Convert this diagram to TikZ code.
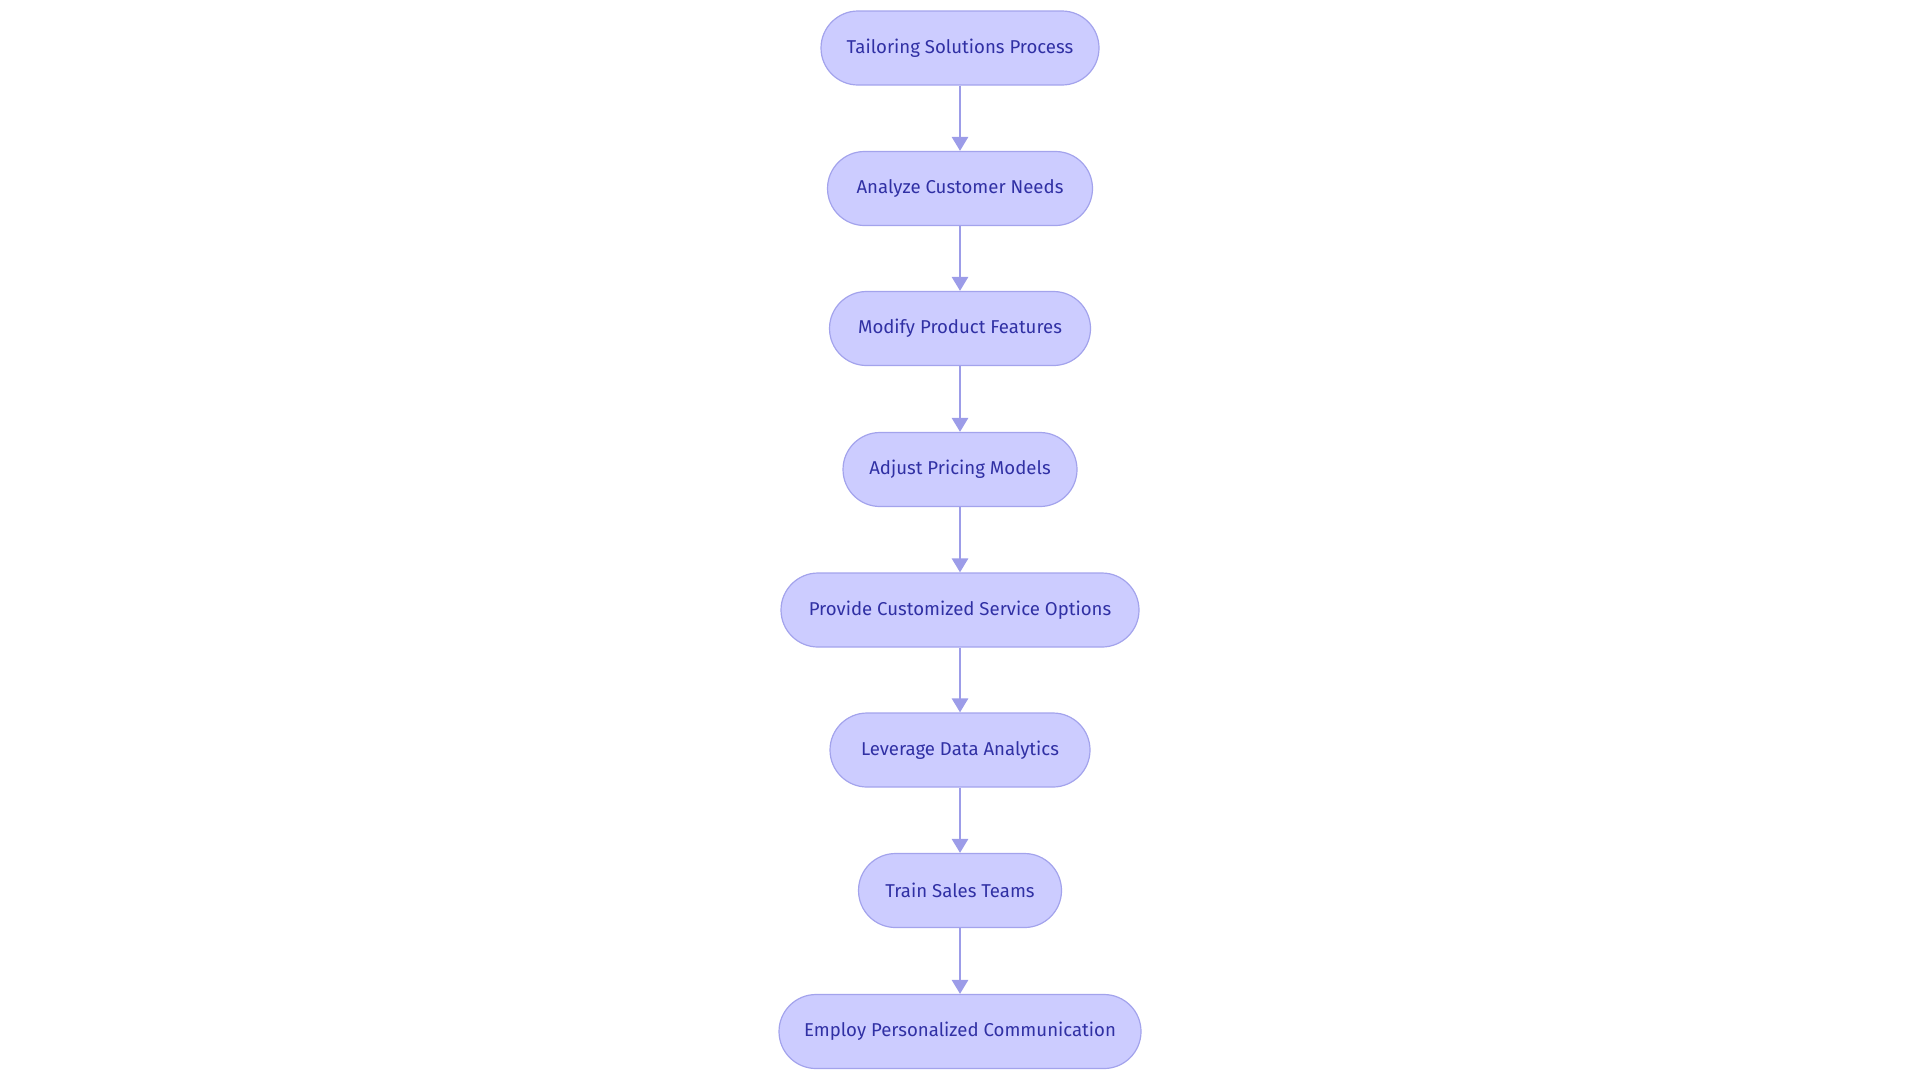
\documentclass[tikz,border=0pt]{standalone}
\usepackage{fontspec}
\setmainfont{Fira Sans}
\usetikzlibrary{arrows.meta}
\definecolor{nfill}{HTML}{CCCCFF}
\definecolor{nborder}{HTML}{A3A3EC}
\definecolor{ntext}{HTML}{3030A4}
\definecolor{arr}{HTML}{9C9CE8}
\begin{document}
\begin{tikzpicture}[x=0.5pt,y=-0.5pt,
  box/.style={draw=nborder,fill=nfill,text=ntext,rounded corners=18.5pt,minimum height=37pt,inner sep=0pt,line width=0.6pt,font=\fontsize{9.3pt}{11pt}\selectfont},
  link/.style={draw=arr,line width=1.4pt,-{Triangle[length=7pt,width=8pt]}}]
\useasboundingbox (0,0) rectangle (1920,1083);
\node[box,minimum width=139pt] (n1) at (960,48) {Tailoring Solutions Process};
\node[box,minimum width=132.5pt] (n2) at (960,188.5) {Analyze Customer Needs};
\node[box,minimum width=130.5pt] (n3) at (960,328.5) {Modify Product Features};
\node[box,minimum width=117pt] (n4) at (960,469.5) {Adjust Pricing Models};
\node[box,minimum width=179pt] (n5) at (960,610) {Provide Customized Service Options};
\node[box,minimum width=130pt] (n6) at (960,750) {Leverage Data Analytics};
\node[box,minimum width=101.5pt] (n7) at (960,890.5) {Train Sales Teams};
\node[box,minimum width=181pt] (n8) at (960,1031.5) {Employ Personalized Communication};
\foreach \a/\b in {n1/n2,n2/n3,n3/n4,n4/n5,n5/n6,n6/n7,n7/n8}
  \draw[link] (\a) -- (\b);
\end{tikzpicture}
\end{document}
